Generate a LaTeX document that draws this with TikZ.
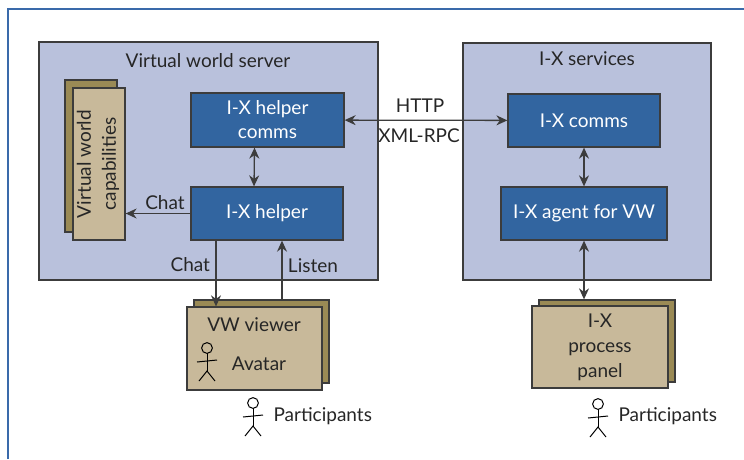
\documentclass[tikz,border=0pt]{standalone}
\usepackage{fontspec}
\setmainfont{Lato}
\usetikzlibrary{arrows.meta}
\definecolor{frameblue}{HTML}{3A6AAA}
\definecolor{serverfill}{HTML}{B9C1DC}
\definecolor{compblue}{HTML}{3265A0}
\definecolor{tanfront}{HTML}{C8B99A}
\definecolor{tanback}{HTML}{9A8A55}
\definecolor{edge}{HTML}{3C3C3C}
\newcommand{\Person}[2]{
    \draw[black, line width=1pt] (#1,#2) circle (5.4);
    \draw[black, line width=1pt] (#1,#2+5.4) -- (#1,#2+23);
    \draw[black, line width=1pt] (#1-10,#2+14) -- (#1+10,#2+12);
    \draw[black, line width=1pt] (#1-8,#2+33) -- (#1,#2+23) -- (#1+8,#2+33);
}
\tikzset{
    server/.style={draw=edge, fill=serverfill, line width=1.3pt, inner sep=0pt},
    comp/.style={draw=edge, fill=compblue, text=white, line width=1.3pt, inner sep=0pt, align=center, font=\fontsize{19}{24}\selectfont},
    sheetback/.style={draw=edge, fill=tanback, line width=1.3pt, inner sep=0pt},
    sheetfront/.style={draw=edge, fill=tanfront, line width=1.3pt, inner sep=0pt, align=center, font=\fontsize{19}{25}\selectfont, text=black!85},
    label/.style={font=\fontsize{19}{25}\selectfont, text=black!85, align=center},
    link/.style={edge, line width=1.3pt, >={Stealth[length=11pt,width=10pt]}},
}
\begin{document}
\begin{tikzpicture}[x=1pt, y=-1pt]
    \useasboundingbox (0,0) rectangle (744,459);
    \draw[frameblue, line width=1.6pt] (8,459) -- (8,9) -- (744,9);
    % servers
    \node[server, minimum width=339, minimum height=238] (vws) at (208.5,161) {};
    \node[server, minimum width=248, minimum height=237] (ixs) at (587,161.5) {};
    \node[label] (vwstitle) at (208,61) {Virtual world server};
    \node[label] (ixstitle) at (587,59) {I-X services};
    % components
    \node[comp, minimum width=153, minimum height=54] (helpercomms) at (267.5,120) {I-X helper\\comms};
    \node[comp, minimum width=152, minimum height=53] (helper) at (267,213.5) {I-X helper};
    \node[comp, minimum width=152, minimum height=53] (ixcomms) at (584,120.5) {I-X comms};
    \node[comp, minimum width=166, minimum height=53] (agent) at (584,213.5) {I-X agent for VW};
    % sheets
    \node[sheetback, minimum width=52, minimum height=152] (capsback) at (91,156) {};
    \node[sheetfront, minimum width=52, minimum height=152] (caps) at (99,164) {};
    \node[label, rotate=90] (capstext) at (98,164) {Virtual world\\capabilities};
    \node[sheetback, minimum width=135, minimum height=83] (viewerback) at (261.5,341.5) {};
    \node[sheetfront, minimum width=135, minimum height=83] (viewer) at (254.5,348.5) {};
    \node[label] (viewertext) at (254,325) {VW viewer};
    \node[label] (avatar) at (259,364) {Avatar};
    \node[sheetback, minimum width=136, minimum height=82] (panelback) at (607,341) {};
    \node[sheetfront, minimum width=136, minimum height=82] (panel) at (600,347) {I-X\\process\\panel};
    % people
    \Person{207}{348}
    \Person{253}{403}
    \Person{598}{404}
    \node[label, anchor=west] (partleft) at (270,416) {Participants};
    \node[label, anchor=west] (partright) at (615,416) {Participants};
    % links
    \draw[link, <->] (helpercomms) -- (ixcomms)
        node[label, midway, above=4pt, xshift=-6pt] {HTTP}
        node[label, midway, below=4pt, xshift=-7pt] {XML-RPC};
    \draw[link, <->] ([xshift=-13pt]helpercomms.south) -- ([xshift=-13pt]helper.north);
    \draw[link, <->] (ixcomms) -- (agent);
    \draw[link, ->] (helper.west) -- (helper.west -| caps.east)
        node[label, midway, above=0pt, xshift=7pt] {Chat};
    \draw[link, ->] ([xshift=-51pt]helper.south) -- ([xshift=-51pt]helper.south |- viewer.north)
        node[label, pos=0.37, left=2pt] {Chat};
    \draw[link, ->] ([xshift=15pt]helper.south |- viewerback.north) -- ([xshift=15pt]helper.south)
        node[label, pos=0.58, right=2pt] {Listen};
    \draw[link, <->] (agent.south) -- (agent.south |- panelback.north);
\end{tikzpicture}
\end{document}
